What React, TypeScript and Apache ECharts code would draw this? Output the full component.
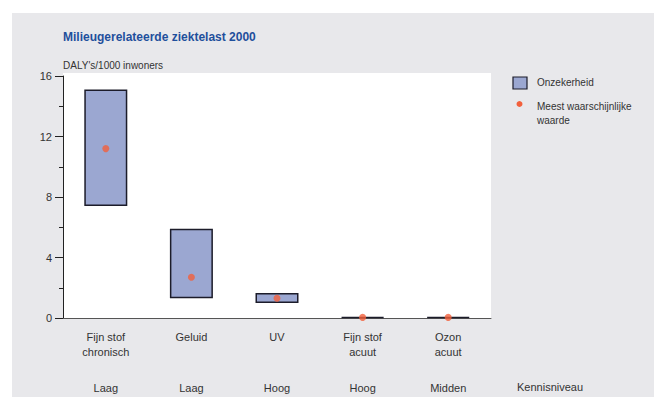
import React, { useEffect, useRef } from "react";
import * as echarts from "echarts";

const categories = ["Fijn stof\nchronisch", "Geluid", "UV", "Fijn stof\nacuut", "Ozon\nacuut"];
const kennisniveau = ["Laag", "Laag", "Hoog", "Hoog", "Midden"];
const onzekerheidLaag = [7.4, 1.3, 1.0, 0, 0];
const onzekerheidHoog = [15.1, 5.9, 1.65, 0.06, 0.06];
const meestWaarschijnlijk = [11.2, 2.7, 1.3, 0.04, 0.04];
const yTicks = [0, 4, 8, 12, 16];

const FONT = "'Liberation Sans', Arial, Helvetica, sans-serif";
const BOX_FILL = "#9ba7d1";
const BOX_BORDER = "#1c1c2a";
const DOT = "#f2603c";

export default function App() {
  const ref = useRef<HTMLDivElement>(null);

  useEffect(() => {
    if (!ref.current) return;
    const chart = echarts.init(ref.current, undefined, { renderer: "svg" });

    const bereik = onzekerheidHoog.map((h, i) => +(h - onzekerheidLaag[i]).toFixed(3));

    chart.setOption({
      animation: false,
      textStyle: { fontFamily: FONT },
      grid: { left: 63, top: 76, right: 163, bottom: 79, containLabel: false },
      graphic: [
        { type: "rect", z: -20, silent: true, shape: { x: 12, y: 13, width: 642, height: 384 }, style: { fill: "#e8e8eb" } },
        { type: "rect", z: -19, silent: true, shape: { x: 63, y: 73, width: 428, height: 245 }, style: { fill: "#ffffff" } },
        {
          type: "text", left: 63, top: 31,
          style: { text: "Milieugerelateerde ziektelast 2000", fontFamily: FONT, fontSize: 12, fontWeight: "bold", fill: "#1f4f9c" },
        },
        {
          type: "text", left: 63, top: 60,
          style: { text: "DALY's/1000 inwoners", fontFamily: FONT, fontSize: 10, fill: "#333" },
        },
        { type: "rect", shape: { x: 513, y: 77, width: 14, height: 12 }, style: { fill: BOX_FILL, stroke: BOX_BORDER, lineWidth: 1.2 } },
        {
          type: "text", left: 537, top: 77,
          style: { text: "Onzekerheid", fontFamily: FONT, fontSize: 10, fill: "#333" },
        },
        { type: "circle", shape: { cx: 519.5, cy: 104, r: 3 }, style: { fill: DOT } },
        {
          type: "text", left: 537, top: 99,
          style: { text: "Meest waarschijnlijke\nwaarde", fontFamily: FONT, fontSize: 10, lineHeight: 14, fill: "#333" },
        },
        {
          type: "text", left: 517, top: 381,
          style: { text: "Kennisniveau", fontFamily: FONT, fontSize: 11, fill: "#333" },
        },
      ],
      xAxis: [
        {
          type: "category",
          data: categories,
          axisLine: { lineStyle: { color: "#555", width: 1 } },
          axisTick: { show: false },
          axisLabel: { color: "#333", fontSize: 11, lineHeight: 15, margin: 11, fontFamily: FONT },
        },
        {
          type: "category",
          data: kennisniveau,
          position: "bottom",
          axisLine: { show: false },
          axisTick: { show: false },
          axisLabel: { color: "#333", fontSize: 11, margin: 64, fontFamily: FONT },
        },
      ],
      yAxis: {
        type: "value",
        min: 0,
        max: 16,
        interval: 4,
        axisLine: { show: true, lineStyle: { color: "#222", width: 1 } },
        axisTick: { show: true, length: 8, lineStyle: { color: "#222" } },
        minorTick: { show: true, splitNumber: 2, length: 4, lineStyle: { color: "#222" } },
        splitLine: { show: false },
        axisLabel: {
          color: "#333", fontSize: 11, margin: 11, fontFamily: FONT,
          formatter: (v: number) => (yTicks.includes(v) ? String(v) : ""),
        },
      },
      series: [
        {
          name: "basis",
          type: "bar",
          stack: "bereik",
          silent: true,
          barWidth: 43,
          itemStyle: { color: "transparent" },
          data: onzekerheidLaag,
        },
        {
          name: "Onzekerheid",
          type: "bar",
          stack: "bereik",
          barWidth: 43,
          itemStyle: { color: BOX_FILL, borderColor: BOX_BORDER, borderWidth: 1.5 },
          data: bereik,
        },
        {
          name: "Meest waarschijnlijke waarde",
          type: "scatter",
          symbol: "circle",
          symbolSize: 7,
          itemStyle: { color: DOT },
          z: 5,
          data: meestWaarschijnlijk,
        },
      ],
    });

    return () => chart.dispose();
  }, []);

  return (
    <div
      ref={ref}
      style={{ position: "fixed", left: 0, top: 0, width: 654, height: 397, background: "#ffffff" }}
    />
  );
}
